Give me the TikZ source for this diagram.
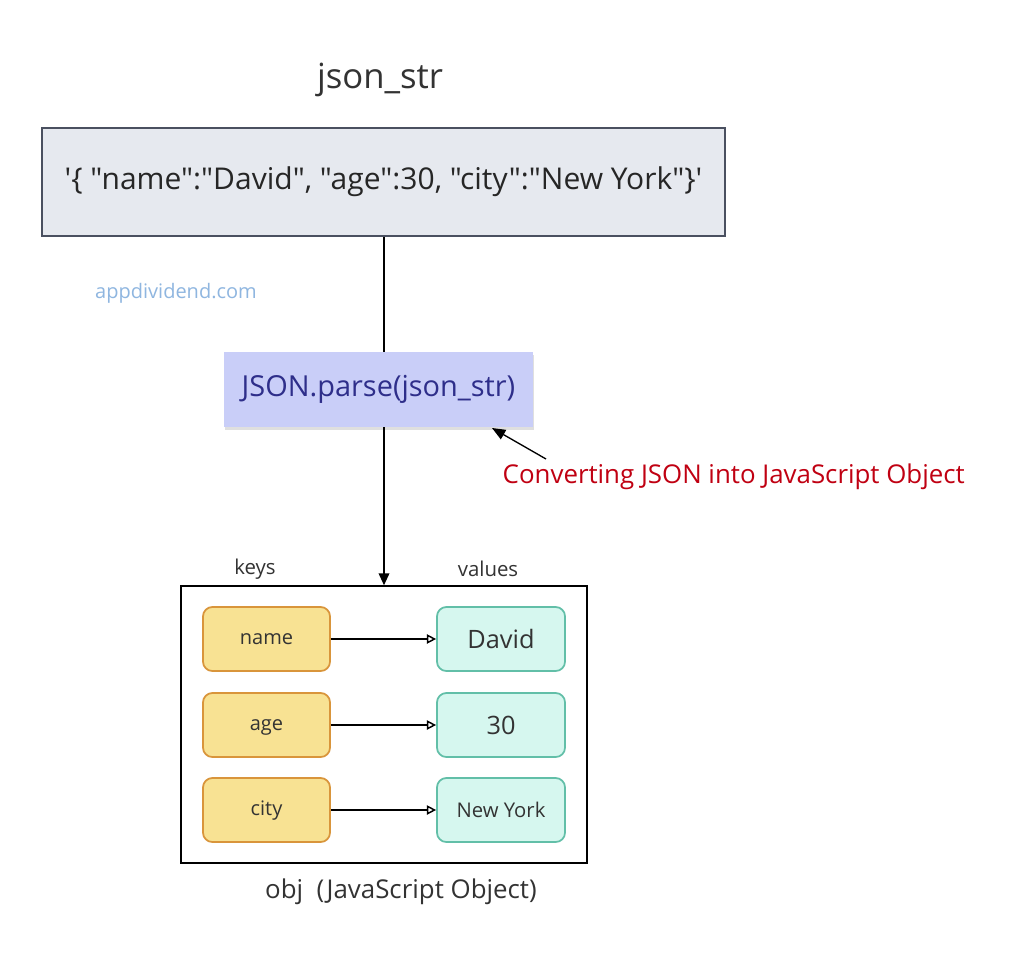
\documentclass[tikz,border=0pt]{standalone}
\usepackage{fontspec}
\setmainfont{Open Sans}[Ligatures=TeXOff]
\usetikzlibrary{arrows.meta,shadows}
\definecolor{topfill}{HTML}{E6E9EF}
\definecolor{topdraw}{HTML}{4A5060}
\definecolor{parsefill}{HTML}{C9CEF8}
\definecolor{parsetext}{HTML}{2E2E8A}
\definecolor{redtext}{HTML}{C00012}
\definecolor{sitetext}{HTML}{8FB6E0}
\definecolor{keyfill}{HTML}{F8E293}
\definecolor{keydraw}{HTML}{D9953B}
\definecolor{valfill}{HTML}{D6F7EF}
\definecolor{valdraw}{HTML}{62BFA8}
\definecolor{txt}{HTML}{333333}
\begin{document}
\begin{tikzpicture}[x=0.75pt,y=-0.75pt,
  keybox/.style={draw=keydraw,fill=keyfill,line width=1.3pt,rounded corners=7pt,minimum width=127*0.75pt,minimum height=64*0.75pt,inner sep=0pt,text=txt,font=\fontsize{15}{18}\selectfont,text height=1.4ex,text depth=0ex},
  valbox/.style={draw=valdraw,fill=valfill,line width=1.3pt,rounded corners=7pt,minimum width=128*0.75pt,minimum height=64*0.75pt,inner sep=0pt,text=txt},
  kv/.style={-{Triangle[open,length=7pt,width=7pt,line width=1.1pt]},line width=1.1pt,black},
  lbl/.style={text=txt,font=\fontsize{15.3}{18}\selectfont}]
\useasboundingbox (0,0) rectangle (1024,963);
\fill[white] (0,0) rectangle (1024,963);
\node[text=txt,font=\fontsize{26}{30}\selectfont] (title) at (380,80) {json\_str};
\node[draw=topdraw,fill=topfill,line width=1.2pt,minimum width=683*0.75pt,minimum height=108*0.75pt,inner sep=0pt,font=\fontsize{22.5}{26}\selectfont,text=black!85] (json) at (383.5,182) {'\{ "name":"David", "age":30, "city":"New York"\}'};
\node[text=sitetext,font=\fontsize{15}{18}\selectfont] (site) at (176,293) {appdividend.com};
\node[fill=parsefill,minimum width=309*0.75pt,minimum height=75*0.75pt,inner sep=0pt,text=parsetext,font=\fontsize{21.7}{25}\selectfont,drop shadow={shadow xshift=1pt,shadow yshift=-2pt,opacity=0.25,fill=gray}] (parse) at (378.5,389.5) {JSON.parse(json\_str)};
\node[draw=black,line width=1.1pt,fill=white,minimum width=406*0.75pt,minimum height=277*0.75pt,inner sep=0pt] (obj) at (384,724.5) {};
\node[text=redtext,font=\fontsize{19.4}{23}\selectfont,anchor=west] (conv) at (498,477) {Converting JSON into JavaScript Object};
\coordinate (convtip) at (546,459);
\draw[line width=1.2pt] (json.south -| 384,0) -- (384,352);
\draw[line width=1.2pt,-{Triangle[length=9pt,width=8pt]}] (384,427) -- (obj.north -| 384,0);
\draw[line width=1pt,-{Triangle[length=10pt,width=8pt]}] (convtip) -- (492,428);
\node[lbl] (keys) at (255,569) {keys};
\node[lbl] (values) at (488,569) {values};
\node[keybox] (k1) at (266.5,639) {name};
\node[keybox] (k2) at (266.5,725) {age};
\node[keybox] (k3) at (266.5,810) {city};
\node[valbox,font=\fontsize{19}{22}\selectfont] (v1) at (501,639) {David};
\node[valbox,font=\fontsize{19}{22}\selectfont] (v2) at (501,725) {30};
\node[valbox,font=\fontsize{15.2}{18}\selectfont] (v3) at (501,810) {New York};
\draw[kv] (k1) -- (v1);
\draw[kv] (k2) -- (v2);
\draw[kv] (k3) -- (v3);
\node[text=txt,font=\fontsize{19.4}{23}\selectfont] (objlbl) at (401,892) {obj\ \ (JavaScript Object)};
\end{tikzpicture}
\end{document}
